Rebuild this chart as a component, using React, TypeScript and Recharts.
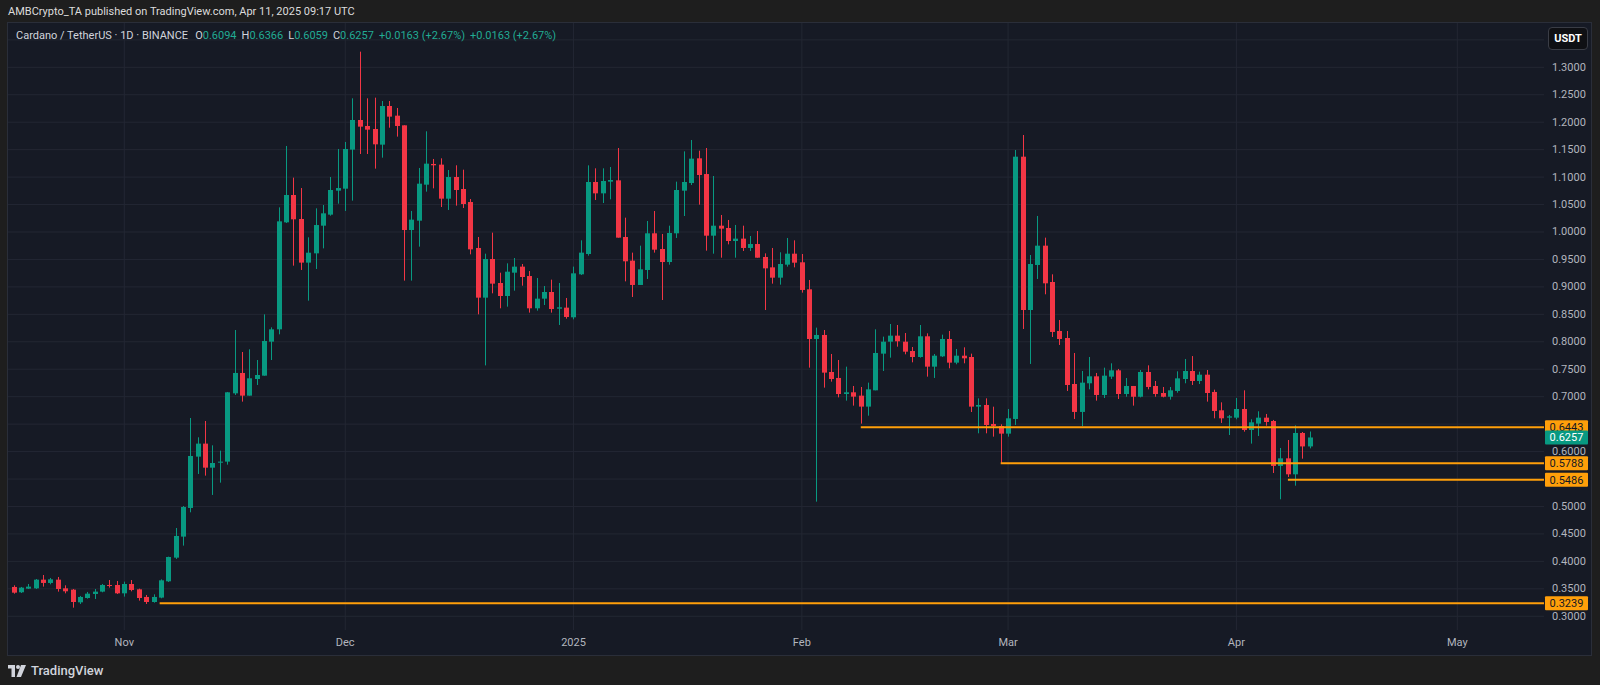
import * as React from "react"
import { Bar, CartesianGrid, ComposedChart, ReferenceLine, XAxis, YAxis } from "recharts"

// days are counted from Nov 1 2024; first candle is Oct 17 2024
const firstDay = -15

const opens = [
  0.3534, 0.3437, 0.3503, 0.3509, 0.3667, 0.3607, 0.3667, 0.3509, 0.3485, 0.3254, 0.3333, 0.3406, 0.3449, 0.357, 0.357,
  0.3418, 0.3588, 0.3491, 0.3352, 0.326, 0.334, 0.3637, 0.4068, 0.4451, 0.4973, 0.5908, 0.6145, 0.5707, 0.5798, 0.5817,
  0.7061, 0.7432, 0.7019, 0.7322, 0.7383, 0.8002, 0.8227, 1.0176, 1.0674, 1.0237, 0.9442, 0.9611, 1.0115, 1.0316, 1.0753,
  1.0789, 1.15, 1.204, 1.1931, 1.1876, 1.1591, 1.2295, 1.2119, 1.1943, 1.0036, 1.0206, 1.0862, 1.1239, 1.1227, 1.0607,
  1.1002, 1.0783, 1.0546, 0.9709, 0.8804, 0.9508, 0.9071, 0.8834, 0.9259, 0.9369, 0.9198, 0.861, 0.8786, 0.8907, 0.8603,
  0.8622, 0.8446, 0.9229, 0.9599, 1.0911, 1.0704, 1.0917, 1.0941, 0.9909, 0.9478, 0.9035, 0.9308, 0.9976, 0.969, 0.9453,
  0.9976, 1.0753, 1.0892, 1.1342, 1.1056, 0.9933, 1.0115, 1.0073, 0.9836, 0.9879, 0.9709, 0.9781, 0.9545, 0.9356, 0.9168,
  0.9405, 0.9605, 0.9448, 0.8956, 0.8051, 0.8124, 0.745, 0.7341, 0.7049, 0.708, 0.7019, 0.6819, 0.7116, 0.7784, 0.8002,
  0.8112, 0.8002, 0.7832, 0.7723, 0.81, 0.7547, 0.7735, 0.8051, 0.762, 0.7747, 0.7723, 0.6819, 0.6849, 0.6503, 0.6466,
  0.6327, 0.6594, 1.1372, 0.8579, 0.9399, 0.9751, 0.9089, 0.8197, 0.8069, 0.7231, 0.6722, 0.7244, 0.7371, 0.7031, 0.7365,
  0.748, 0.7049, 0.7195, 0.6999, 0.745, 0.7195, 0.7067, 0.6999, 0.7104, 0.7322, 0.7468, 0.7286, 0.7401, 0.7086, 0.6752,
  0.6618, 0.6618, 0.6776, 0.6393, 0.6509, 0.6618, 0.6557, 0.5738, 0.5877, 0.5586, 0.6339, 0.6094,
]

const highs = [
  0.3564, 0.3534, 0.3588, 0.3679, 0.3752, 0.3698, 0.3716, 0.3564, 0.3497, 0.337, 0.3443, 0.3497, 0.3588, 0.3661, 0.3643,
  0.3631, 0.3661, 0.3503, 0.3388, 0.34, 0.3673, 0.4086, 0.4608, 0.5009, 0.6612, 0.626, 0.6557, 0.6114, 0.6017, 0.7086,
  0.8215, 0.7814, 0.7863, 0.7668, 0.85, 0.8263, 1.0449, 1.1567, 1.099, 1.0801, 0.9903, 1.0431, 1.0492, 1.1002, 1.1512,
  1.164, 1.2435, 1.3285, 1.2435, 1.2447, 1.2386, 1.2386, 1.2259, 1.1943, 1.0383, 1.1166, 1.1834, 1.133, 1.1342, 1.1129,
  1.1215, 1.1135, 1.0601, 0.9909, 0.9605, 0.9988, 0.9259, 0.9429, 0.9526, 0.9417, 0.9289, 0.9162, 0.9016, 0.9132, 0.9071,
  0.8798, 0.9369, 0.9848, 1.1214, 1.116, 1.116, 1.1184, 1.153, 1.0261, 0.9624, 0.9751, 1.02, 1.0382, 0.9964, 1.0115,
  1.0917, 1.1469, 1.1676, 1.1481, 1.153, 1.102, 1.031, 1.0219, 1.0128, 1.0115, 0.9927, 1.0018, 0.9611, 0.9709, 0.963,
  0.9891, 0.9848, 0.9599, 0.9126, 0.8258, 0.8215, 0.7778, 0.7668, 0.7547, 0.7195, 0.7177, 0.7256, 0.8227, 0.8094, 0.8324,
  0.8306, 0.816, 0.7905, 0.8306, 0.8154, 0.7778, 0.813, 0.8197, 0.7869, 0.7899, 0.7784, 0.697, 0.697, 0.6818, 0.6497,
  0.6776, 1.1494, 1.1767, 0.9581, 1.0292, 0.9897, 0.9229, 0.8397, 0.8197, 0.7796, 0.7468, 0.7723, 0.7432, 0.7529, 0.7608,
  0.7505, 0.734, 0.7195, 0.7486, 0.7571, 0.7286, 0.7177, 0.7177, 0.7462, 0.7687, 0.774, 0.7456, 0.7486, 0.7128, 0.6897,
  0.6667, 0.6976, 0.7116, 0.6588, 0.6734, 0.6685, 0.6576, 0.6066, 0.6211, 0.6478, 0.6357, 0.6366,
]

const lows = [
  0.3412, 0.3424, 0.3497, 0.3497, 0.354, 0.3582, 0.3449, 0.3418, 0.3157, 0.3224, 0.3321, 0.3315, 0.3437, 0.3522, 0.3406,
  0.3358, 0.3455, 0.3285, 0.3224, 0.3248, 0.3328, 0.3625, 0.4044, 0.4287, 0.4894, 0.5592, 0.5562, 0.521, 0.5434, 0.5762,
  0.7031, 0.691, 0.7019, 0.7213, 0.7383, 0.7668, 0.8136, 1.0164, 0.9387, 0.9308, 0.8749, 0.9326, 0.9702, 1.0297, 1.0516,
  1.0383, 1.0571, 1.1421, 1.1421, 1.1154, 1.1354, 1.19, 1.1737, 0.9114, 0.9114, 0.9733, 1.0735, 1.0795, 1.0455, 1.0401,
  1.048, 1.0437, 0.9593, 0.85, 0.757, 0.8883, 0.861, 0.864, 0.8931, 0.9022, 0.8531, 0.8567, 0.867, 0.8531, 0.8306,
  0.8421, 0.8409, 0.9217, 0.9569, 1.0583, 1.0528, 1.0595, 0.9897, 0.9101, 0.8816, 0.9035, 0.9144, 0.9624, 0.8761, 0.9405,
  0.9891, 1.0291, 1.0856, 1.0498, 0.966, 0.9605, 0.9532, 0.9775, 0.9532, 0.9654, 0.9654, 0.9532, 0.8579, 0.9059, 0.9041,
  0.9369, 0.9356, 0.8895, 0.7529, 0.5088, 0.7165, 0.7274, 0.6988, 0.6928, 0.6837, 0.6509, 0.6654, 0.7116, 0.7468, 0.7711,
  0.7911, 0.7772, 0.7626, 0.7711, 0.7365, 0.7341, 0.7723, 0.7517, 0.759, 0.7608, 0.6721, 0.6333, 0.6333, 0.6272, 0.5788,
  0.6272, 0.6485, 0.8233, 0.7596, 0.9144, 0.8865, 0.8087, 0.7942, 0.7104, 0.6594, 0.6466, 0.7134, 0.6928, 0.6976, 0.7322,
  0.6958, 0.6999, 0.6837, 0.6987, 0.7134, 0.6999, 0.6988, 0.6946, 0.7073, 0.7244, 0.7213, 0.7231, 0.691, 0.6606, 0.6521,
  0.6302, 0.6588, 0.6363, 0.6145, 0.6284, 0.6472, 0.561, 0.5131, 0.5537, 0.5379, 0.5871, 0.6059,
]

const closes = [
  0.343, 0.3522, 0.354, 0.3667, 0.3607, 0.3673, 0.3497, 0.3455, 0.326, 0.3352, 0.3412, 0.3449, 0.357, 0.3552, 0.3418,
  0.3588, 0.3479, 0.3333, 0.326, 0.3352, 0.3655, 0.408, 0.4463, 0.4991, 0.592, 0.6145, 0.5707, 0.5792, 0.5817, 0.708,
  0.7432, 0.7019, 0.7335, 0.7395, 0.8015, 0.8227, 1.0194, 1.0674, 1.0231, 0.9442, 0.9623, 1.0127, 1.034, 1.0765, 1.0801,
  1.1512, 1.204, 1.1919, 1.1864, 1.1597, 1.2295, 1.2101, 1.1931, 1.0036, 1.0225, 1.088, 1.1245, 1.1215, 1.0607, 1.1002,
  1.0765, 1.051, 0.9684, 0.8804, 0.9508, 0.9059, 0.8834, 0.9277, 0.9369, 0.918, 0.861, 0.8786, 0.8907, 0.8597, 0.8628,
  0.8452, 0.9247, 0.9624, 1.0911, 1.0704, 1.0929, 1.0947, 0.9897, 0.9466, 0.9035, 0.932, 0.9976, 0.9678, 0.9453, 0.9982,
  1.0765, 1.0911, 1.1336, 1.1038, 0.9933, 1.0115, 1.0061, 0.9836, 0.9879, 0.9709, 0.9781, 0.9532, 0.9338, 0.9168, 0.9417,
  0.9605, 0.9441, 0.8944, 0.8051, 0.8124, 0.7438, 0.7322, 0.7049, 0.708, 0.7001, 0.6819, 0.7134, 0.7796, 0.8002, 0.8112,
  0.8009, 0.782, 0.7723, 0.81, 0.7547, 0.7747, 0.8051, 0.762, 0.7747, 0.7699, 0.6819, 0.6849, 0.6484, 0.6466, 0.6327,
  0.6606, 1.1372, 0.8579, 0.9417, 0.9751, 0.9065, 0.8179, 0.8051, 0.7213, 0.6722, 0.7256, 0.7371, 0.7031, 0.7383, 0.748,
  0.7049, 0.7195, 0.6999, 0.745, 0.7177, 0.7049, 0.6999, 0.7116, 0.7334, 0.7468, 0.7286, 0.7401, 0.7067, 0.674, 0.6606,
  0.6642, 0.6776, 0.6393, 0.6533, 0.6618, 0.6539, 0.5738, 0.5877, 0.5586, 0.6339, 0.6094, 0.6257,
]

const monthDays = [0, 30, 61, 92, 120, 151, 181]
const monthNames = ["Nov", "Dec", "2025", "Feb", "Mar", "Apr", "May"]
const priceLabels = [0.3, 0.35, 0.4, 0.45, 0.5, 0.6, 0.7, 0.75, 0.8, 0.85, 0.9, 0.95, 1.0, 1.05, 1.1, 1.15, 1.2, 1.25, 1.3]
const gridPrices = [
  0.3, 0.35, 0.4, 0.45, 0.5, 0.55, 0.6, 0.65, 0.7, 0.75, 0.8, 0.85, 0.9, 0.95, 1.0, 1.05, 1.1, 1.15, 1.2, 1.25, 1.3, 1.35,
]

// user drawn horizontal rays
const levelPrices = [0.6443, 0.5788, 0.5486, 0.3239]
const levelStartDays = [100, 119, 158, 4.8]
const lastPrice = 0.6257

const UP = "#089981"
const DOWN = "#f23645"
const ORANGE = "#ff9f0a"
const FONT = "Roboto, 'Noto Sans', sans-serif"
const X_MAX = 192.77

const rows = opens.map((o, i) => ({
  day: firstDay + i,
  open: o,
  high: highs[i],
  low: lows[i],
  close: closes[i],
}))

function Candle(props: any) {
  const { x, y, width, height, payload } = props
  if (!payload || width == null) return null
  const { open, close, high, low } = payload
  const top = Math.min(y, y + height)
  const h = Math.abs(height)
  const toY = (v: number) => top + ((high - v) / (high - low || 1)) * h
  const color = close >= open ? UP : DOWN
  const bodyTop = toY(Math.max(open, close))
  const bodyH = Math.max(1, toY(Math.min(open, close)) - bodyTop)
  const cx = Math.round(x + width / 2) + 0.5
  return (
    <g>
      <line x1={cx} x2={cx} y1={top} y2={top + h} stroke={color} strokeWidth={1} />
      <rect x={cx - 2.5} y={bodyTop} width={5} height={bodyH} fill={color} />
    </g>
  )
}

function PriceTag({ viewBox, value, fill, color }: any) {
  if (!viewBox) return null
  const x = viewBox.x + viewBox.width + 1
  const y = viewBox.y
  return (
    <g>
      <rect x={x} y={y - 7} width={43} height={14} rx={1} fill={fill} />
      <text x={x + 21.5} y={y + 0.5} textAnchor="middle" dominantBaseline="central" fontSize={11} fontFamily={FONT} fill={color}>
        {value.toFixed(4)}
      </text>
    </g>
  )
}

function MonthTick({ x, y, payload }: any) {
  const i = monthDays.indexOf(payload.value)
  return (
    <text x={x} y={y + 12} textAnchor="middle" dominantBaseline="central" fontSize={11} fontFamily={FONT} fill="#b2b5be">
      {monthNames[i]}
    </text>
  )
}

function PriceTick({ x, y, payload }: any) {
  return (
    <text x={x + 8} y={y} dominantBaseline="central" fontSize={11} fontFamily={FONT} fill="#b2b5be">
      {payload.value.toFixed(4)}
    </text>
  )
}

function Logo() {
  return (
    <svg width={18} height={12} viewBox="0 0 18 12">
      <path d="M0 0 H7 V12 H3.5 V3.5 H0 Z" fill="#d1d4dc" />
      <circle cx={10} cy={2} r={2} fill="#d1d4dc" />
      <path d="M13 0 H18 L13 12 H8.5 Z" fill="#d1d4dc" />
    </svg>
  )
}

export default function App() {
  const legendValue = { color: "#22ab94", marginRight: 5 }
  return (
    <div
      style={{
        position: "absolute",
        left: 0,
        top: 0,
        width: 1600,
        height: 685,
        background: "#1e1e1e",
        overflow: "hidden",
        fontFamily: FONT,
      }}
    >
      <div style={{ position: "absolute", left: 8, top: 5, fontSize: 11, color: "#dcdcdc" }}>
        AMBCrypto_TA published on TradingView.com, Apr 11, 2025 09:17 UTC
      </div>

      <div
        style={{
          position: "absolute",
          left: 8,
          top: 23,
          width: 1583,
          height: 632,
          background: "#161a25",
          boxShadow: "0 0 0 1px #2a2e39",
        }}
      >
        <ComposedChart width={1583} height={632} data={rows} margin={{ top: 0, right: 0, bottom: 0, left: 0 }}>
          <CartesianGrid stroke="#232733" horizontalValues={gridPrices} verticalValues={monthDays} />
          <XAxis
            type="number"
            dataKey="day"
            domain={[firstDay - 0.79, X_MAX]}
            allowDataOverflow
            ticks={monthDays}
            tick={<MonthTick />}
            tickSize={0}
            tickMargin={0}
            axisLine={false}
            tickLine={false}
            height={25}
            interval={0}
          />
          <YAxis
            orientation="right"
            domain={[0.275, 1.3807]}
            allowDataOverflow
            ticks={priceLabels}
            tick={<PriceTick />}
            tickSize={0}
            tickMargin={0}
            axisLine={false}
            tickLine={false}
            width={47}
            interval={0}
          />
          <Bar
            dataKey={(r: any) => [r.low, r.high]}
            shape={<Candle />}
            barSize={5}
            isAnimationActive={false}
          />
          {levelPrices.map((p, i) => (
            <ReferenceLine
              key={p}
              segment={[
                { x: levelStartDays[i], y: p },
                { x: X_MAX, y: p },
              ]}
              stroke={ORANGE}
              strokeWidth={2}
              label={<PriceTag value={p} fill={ORANGE} color="#131722" />}
            />
          ))}
          <ReferenceLine
            y={lastPrice}
            stroke="none"
            label={<PriceTag value={lastPrice} fill={UP} color="#ffffff" />}
          />
        </ComposedChart>

        <div style={{ position: "absolute", left: 8, top: 6, fontSize: 11, color: "#d1d4dc", whiteSpace: "pre" }}>
          <span style={{ marginRight: 7 }}>Cardano / TetherUS · 1D · BINANCE</span>
          O<span style={legendValue}>0.6094</span>
          H<span style={legendValue}>0.6366</span>
          L<span style={legendValue}>0.6059</span>
          C<span style={legendValue}>0.6257</span>
          <span style={legendValue}>+0.0163 (+2.67%)</span>
          <span style={legendValue}>+0.0163 (+2.67%)</span>
        </div>

        <div
          style={{
            position: "absolute",
            left: 1540,
            top: 4,
            width: 38,
            height: 21,
            background: "#0f1014",
            border: "1px solid #3a3d46",
            borderRadius: 4,
            color: "#ffffff",
            fontSize: 11,
            fontWeight: 700,
            display: "flex",
            alignItems: "center",
            justifyContent: "center",
          }}
        >
          USDT
        </div>
      </div>

      <div
        style={{
          position: "absolute",
          left: 8,
          top: 663,
          display: "flex",
          alignItems: "center",
          gap: 5,
          color: "#d1d4dc",
          fontSize: 13,
          fontWeight: 500,
        }}
      >
        <Logo />
        TradingView
      </div>
    </div>
  )
}
